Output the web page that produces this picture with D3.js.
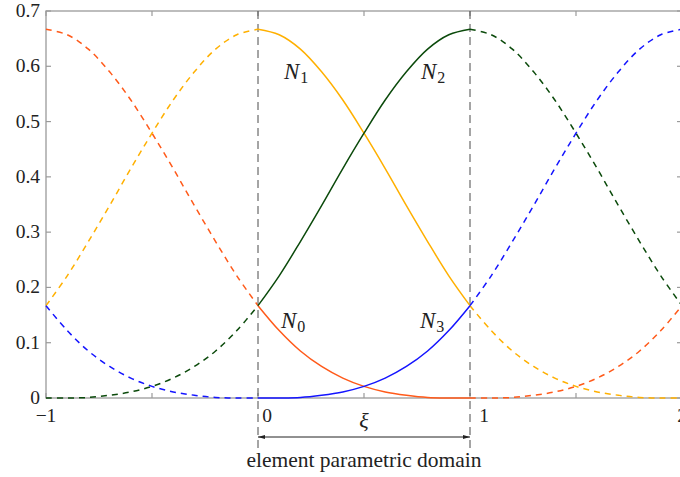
<!DOCTYPE html>
<html>
<head>
<meta charset="utf-8">
<script src="https://cdn.jsdelivr.net/npm/d3@7"></script>
<style>
  body { margin: 0; background: #fff; }
  svg { display: block; }
  text { font-family: "Liberation Serif", "DejaVu Serif", serif; fill: #222; }
</style>
</head>
<body>
<svg id="chart" width="680" height="477"></svg>
<script>
// parametric coordinate samples
const xiSamples = [-1.0, -0.9, -0.8, -0.7, -0.6, -0.5, -0.4, -0.3, -0.2, -0.1,
  0.0, 0.1, 0.2, 0.3, 0.4, 0.5, 0.6, 0.7, 0.8, 0.9,
  1.0, 1.1, 1.2, 1.3, 1.4, 1.5, 1.6, 1.7, 1.8, 1.9, 2.0];

// basis function values
const n0Values = [0.667, 0.657, 0.631, 0.590, 0.539, 0.479, 0.415, 0.348, 0.283, 0.221,
  0.167, 0.122, 0.085, 0.057, 0.036, 0.021, 0.011, 0.005, 0.001, 0.000,
  0.000, 0.000, 0.001, 0.005, 0.011, 0.021, 0.036, 0.057, 0.085, 0.122, 0.167];
const n1Values = [0.167, 0.221, 0.283, 0.348, 0.415, 0.479, 0.539, 0.590, 0.631, 0.657,
  0.667, 0.657, 0.631, 0.590, 0.539, 0.479, 0.415, 0.348, 0.283, 0.221,
  0.167, 0.122, 0.085, 0.057, 0.036, 0.021, 0.011, 0.005, 0.001, 0.000, 0.000];
const n2Values = [0.000, 0.000, 0.001, 0.005, 0.011, 0.021, 0.036, 0.057, 0.085, 0.122,
  0.167, 0.221, 0.283, 0.348, 0.415, 0.479, 0.539, 0.590, 0.631, 0.657,
  0.667, 0.657, 0.631, 0.590, 0.539, 0.479, 0.415, 0.348, 0.283, 0.221, 0.167];
const n3Values = [0.167, 0.122, 0.085, 0.057, 0.036, 0.021, 0.011, 0.005, 0.001, 0.000,
  0.000, 0.000, 0.001, 0.005, 0.011, 0.021, 0.036, 0.057, 0.085, 0.122,
  0.167, 0.221, 0.283, 0.348, 0.415, 0.479, 0.539, 0.590, 0.631, 0.657, 0.667];

const seriesNames = ["0", "1", "2", "3"];
const seriesColors = ["#ff5a1a", "#ffb000", "#0b4a0b", "#1414ff"];
const elementStart = 0;
const elementEnd = 1;

const xTickLabels = ["\u22121", "0", "1", "2"];
const xTickValues = [-1, 0, 1, 2];
const xMinorTicks = [-0.5, 0.5, 1.5];
const yTickValues = [0, 0.1, 0.2, 0.3, 0.4, 0.5, 0.6, 0.7];

const svg = d3.select("#chart");
const margin = { left: 46, top: 11 };
const plotW = 636, plotH = 387;

const x = d3.scaleLinear().domain([-1, 2]).range([margin.left, margin.left + plotW]);
const y = d3.scaleLinear().domain([0, 0.7]).range([margin.top + plotH, margin.top]);

const frameColor = "#9a9a9a";
const g = svg.append("g");

// frame
g.append("rect")
  .attr("x", x(-1)).attr("y", y(0.7))
  .attr("width", x(2) - x(-1)).attr("height", y(0) - y(0.7))
  .attr("fill", "none").attr("stroke", frameColor).attr("stroke-width", 1.3);

// inward ticks
const tickLen = 5;
[...xTickValues, ...xMinorTicks].forEach(v => {
  g.append("line").attr("x1", x(v)).attr("x2", x(v))
    .attr("y1", y(0)).attr("y2", y(0) - tickLen)
    .attr("stroke", frameColor).attr("stroke-width", 1.2);
  g.append("line").attr("x1", x(v)).attr("x2", x(v))
    .attr("y1", y(0.7)).attr("y2", y(0.7) + tickLen)
    .attr("stroke", frameColor).attr("stroke-width", 1.2);
});
yTickValues.forEach(v => {
  g.append("line").attr("x1", x(-1)).attr("x2", x(-1) + tickLen)
    .attr("y1", y(v)).attr("y2", y(v))
    .attr("stroke", frameColor).attr("stroke-width", 1.2);
  g.append("line").attr("x1", x(2)).attr("x2", x(2) - tickLen)
    .attr("y1", y(v)).attr("y2", y(v))
    .attr("stroke", frameColor).attr("stroke-width", 1.2);
});

// tick labels
g.selectAll(".ylab").data(yTickValues).enter().append("text")
  .attr("class", "ylab")
  .attr("x", x(-1) - 6).attr("y", d => y(d) + 6)
  .attr("text-anchor", "end").attr("font-size", 19.5)
  .text(d => d === 0 ? "0" : d3.format(".1f")(d));

// labels at 0 and 1 sit a little to the right of their knot lines
const xLabelShift = [0, 9, 14, 0];
g.selectAll(".xlab").data(xTickValues).enter().append("text")
  .attr("class", "xlab")
  .attr("x", (d, i) => x(d) + xLabelShift[i]).attr("y", y(0) + 24)
  .attr("text-anchor", "middle").attr("font-size", 19.5)
  .text((d, i) => xTickLabels[i]);

// knot lines bounding the element
[elementStart, elementEnd].forEach(v => {
  g.append("line").attr("x1", x(v)).attr("x2", x(v))
    .attr("y1", y(0.7)).attr("y2", 449)
    .attr("stroke", "#4a4a4a").attr("stroke-width", 1)
    .attr("stroke-dasharray", "8,5");
});

// curves
const line = d3.line()
  .x(d => x(d.xi)).y(d => y(d.v))
  .curve(d3.curveCatmullRom.alpha(0.5));

const allValues = [n0Values, n1Values, n2Values, n3Values];
allValues.forEach((vals, k) => {
  const pts = xiSamples.map((xi, i) => ({ xi, v: vals[i] }));
  const left = pts.filter(p => p.xi <= elementStart + 1e-9);
  const mid = pts.filter(p => p.xi >= elementStart - 1e-9 && p.xi <= elementEnd + 1e-9);
  const right = pts.filter(p => p.xi >= elementEnd - 1e-9);
  [left, right].forEach(seg => {
    g.append("path").datum(seg).attr("d", line)
      .attr("fill", "none").attr("stroke", seriesColors[k])
      .attr("stroke-width", 1.5).attr("stroke-dasharray", "6,5");
  });
  g.append("path").datum(mid).attr("d", line)
    .attr("fill", "none").attr("stroke", seriesColors[k])
    .attr("stroke-width", 1.5);
});

// basis function labels
const labelPos = [[281, 328], [284, 79], [421, 79], [420, 328]];
seriesNames.forEach((s, i) => {
  const t = g.append("text")
    .attr("x", labelPos[i][0]).attr("y", labelPos[i][1])
    .attr("font-size", 23);
  t.append("tspan").attr("font-style", "italic").text("N");
  t.append("tspan").attr("font-size", 16).attr("dy", 4).attr("dx", 1).text(s);
});

// element parametric domain arrow
const arrowY = 437;
svg.append("defs").append("marker")
  .attr("id", "ah").attr("viewBox", "0 0 10 10")
  .attr("refX", 10).attr("refY", 5)
  .attr("markerWidth", 7).attr("markerHeight", 7)
  .attr("orient", "auto-start-reverse")
  .append("path").attr("d", "M0,2 L10,5 L0,8 Z").attr("fill", "#222");

g.append("line")
  .attr("x1", x(elementStart)).attr("x2", x(elementEnd))
  .attr("y1", arrowY).attr("y2", arrowY)
  .attr("stroke", "#222").attr("stroke-width", 1)
  .attr("marker-start", "url(#ah)").attr("marker-end", "url(#ah)");

g.append("text")
  .attr("x", (x(elementStart) + x(elementEnd)) / 2).attr("y", 428)
  .attr("text-anchor", "middle").attr("font-size", 22)
  .attr("font-style", "italic").text("\u03be");

g.append("text")
  .attr("x", (x(elementStart) + x(elementEnd)) / 2).attr("y", 467)
  .attr("text-anchor", "middle").attr("font-size", 21.5)
  .text("element parametric domain");
</script>
</body>
</html>
